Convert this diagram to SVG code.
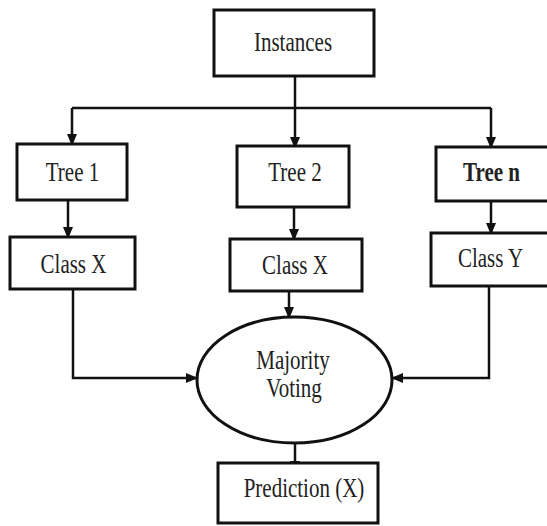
<svg xmlns="http://www.w3.org/2000/svg" width="547" height="526" viewBox="0 0 547 526">
<style>
.box{fill:#fff;stroke:#111;stroke-width:3}
.conn{fill:none;stroke:#111;stroke-width:2.5}
.t{font-family:"Liberation Serif","Times New Roman",serif;font-size:21px;fill:#222;text-anchor:middle}
.b{font-weight:bold}
</style>
<defs>
<marker id="arr" viewBox="0 0 12 10" refX="11" refY="5" markerWidth="12" markerHeight="10" markerUnits="userSpaceOnUse" orient="auto">
<path d="M0,0 L12,5 L0,10 z" fill="#111"/>
</marker>
</defs>
<rect width="547" height="526" fill="#fff"/>
<g id="connectors">
<path class="conn" d="M295,76 V148" marker-end="url(#arr)"/>
<path class="conn" d="M72,108 H491"/>
<path class="conn" d="M72,108 V145" marker-end="url(#arr)"/>
<path class="conn" d="M491,108 V148" marker-end="url(#arr)"/>
<path class="conn" d="M68,200 V238" marker-end="url(#arr)"/>
<path class="conn" d="M294,207 V240" marker-end="url(#arr)"/>
<path class="conn" d="M491,201 V234" marker-end="url(#arr)"/>
<path class="conn" d="M289,291 V318" marker-end="url(#arr)"/>
<path class="conn" d="M73,289 V378 H197" marker-end="url(#arr)"/>
<path class="conn" d="M489,286 V378 H392" marker-end="url(#arr)"/>
<path class="conn" d="M295,443 V472" marker-end="url(#arr)"/>
</g>
<g id="instances">
<rect class="box" x="214" y="10" width="160" height="66"/>
<text class="t" transform="translate(293,51) scale(1,1.28)">Instances</text>
</g>
<g id="tree1">
<rect class="box" x="17" y="144" width="110" height="56"/>
<text class="t" transform="translate(72.5,181) scale(1,1.28)">Tree 1</text>
</g>
<g id="tree2">
<rect class="box" x="237" y="146" width="112" height="61"/>
<text class="t" transform="translate(295,181) scale(1,1.28)">Tree 2</text>
</g>
<g id="treen">
<rect class="box" x="436" y="147" width="114" height="54"/>
<text class="t b" transform="translate(491.5,181) scale(1,1.28)">Tree n</text>
</g>
<g id="classx1">
<rect class="box" x="10" y="237" width="125" height="52"/>
<text class="t" transform="translate(73.5,273) scale(1,1.28)">Class X</text>
</g>
<g id="classx2">
<rect class="box" x="230" y="239" width="132" height="52"/>
<text class="t" transform="translate(295,274) scale(1,1.28)">Class X</text>
</g>
<g id="classy">
<rect class="box" x="431" y="233" width="120" height="53"/>
<text class="t" transform="translate(490.5,267) scale(1,1.28)">Class Y</text>
</g>
<g id="voting">
<ellipse class="box" cx="294.5" cy="380" rx="97.5" ry="63"/>
<text class="t" transform="translate(293,369) scale(1,1.28)">Majority</text>
<text class="t" transform="translate(294,397) scale(1,1.28)">Voting</text>
</g>
<g id="prediction">
<rect class="box" x="218" y="463" width="160" height="60"/>
<text class="t" transform="translate(304,497) scale(1,1.28)">Prediction (X)</text>
</g>
</svg>
